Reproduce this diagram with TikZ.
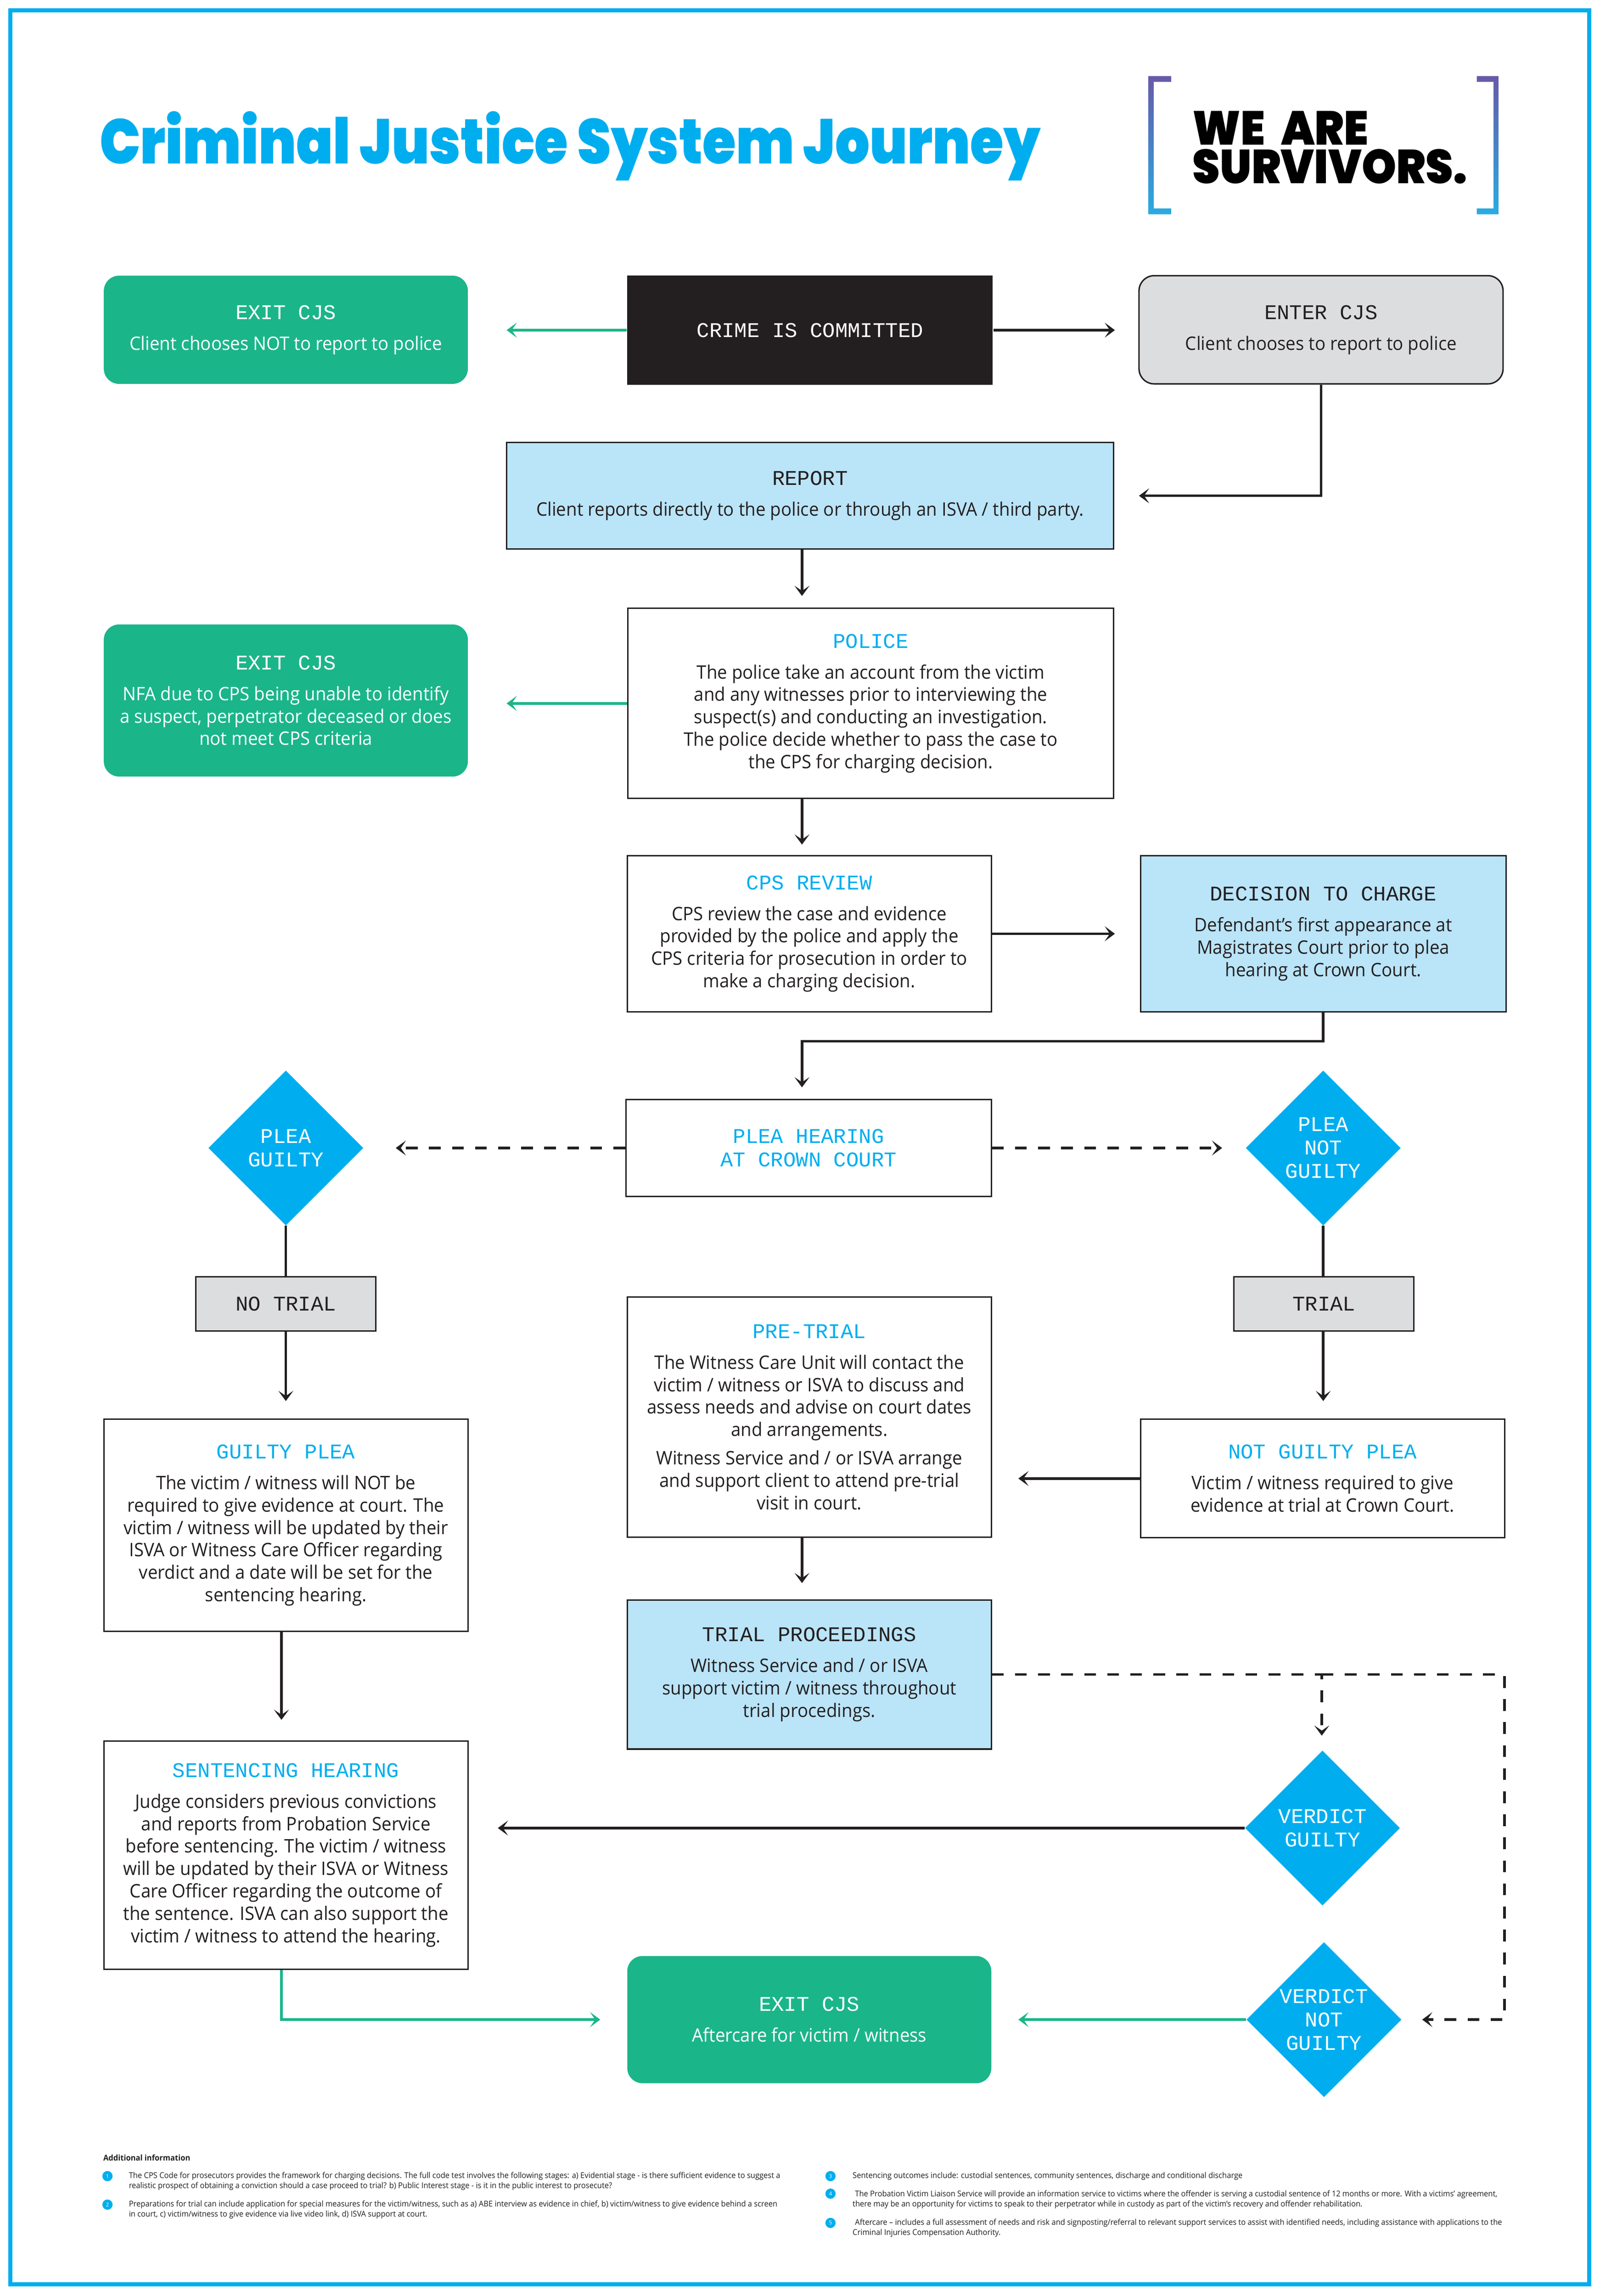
\documentclass[tikz,border=0pt]{standalone}
\usepackage{fontspec}
\usetikzlibrary{arrows.meta,shapes.geometric}
\setmainfont[FakeStretch=0.95]{Open Sans}
\newfontfamily\headfont{Liberation Mono}
\newfontfamily\titlefont[FakeStretch=0.857]{Poppins Black}
\newfontfamily\logofont[FakeStretch=0.92]{Poppins Black}
\newfontfamily\notefont[FakeStretch=0.95]{Open Sans}
\definecolor{cjsblue}{HTML}{00AEEF}
\definecolor{cjsgreen}{HTML}{1BB58A}
\definecolor{cjspale}{HTML}{BAE4F8}
\definecolor{cjsgrey}{HTML}{DCDDDE}
\definecolor{cjsdark}{HTML}{231F20}
\definecolor{logopurple}{HTML}{675AA8}
\definecolor{logoblue}{HTML}{29ABE2}
\newcommand{\un}{0.4314mm}
\newcommand{\hd}[1]{{\headfont\fontsize{17.6}{19}\selectfont #1}}
\newcommand{\hb}[1]{{\headfont\fontsize{17.6}{19}\selectfont\color{cjsblue} #1}}
\tikzset{
    panel/.style={rectangle, align=center, inner sep=0pt, text=cjsdark, line width=1.2pt,
        font=\fontsize{15.6}{18.8}\selectfont},
    whitebox/.style={panel, draw=cjsdark, fill=white},
    palebox/.style={panel, draw=cjsdark, fill=cjspale},
    greybox/.style={panel, draw=cjsdark, fill=cjsgrey},
    blackbox/.style={panel, fill=cjsdark, text=white},
    exitbox/.style={panel, fill=cjsgreen, text=white, rounded corners=4.5mm},
    enterbox/.style={greybox, rounded corners=4.5mm},
    choice/.style={diamond, aspect=1, fill=cjsblue, text=white, align=center, inner sep=0pt,
        minimum width=106*\un, minimum height=106*\un, font=\fontsize{15}{19.6}\selectfont},
    flow/.style={->, draw=cjsdark, line width=2.2pt},
    gflow/.style={->, draw=cjsgreen, line width=2.2pt},
    dflow/.style={flow, dash pattern=on 3.45mm off 3.35mm},
    gap/.style={shorten >=#1*\un},
    notenum/.style={circle, fill=cjsblue, text=white, inner sep=0pt, minimum size=7*\un,
        font=\notefont\fontsize{4.5}{5}\selectfont},
    note/.style={anchor=west, inner sep=0pt, text=cjsdark, align=left,
        font=\notefont\fontsize{6.7}{8.5}\selectfont},
    >={Stealth[length=3mm, width=4.4mm, inset=1.5mm]}
}
\begin{document}
\begin{tikzpicture}[x=0.4314mm, y=-0.4314mm]
    \useasboundingbox (0,0) rectangle (1094,1570);
    \fill[white] (0,0) rectangle (1094,1570);
    \draw[cjsblue, line width=3.6pt] (7,7) rectangle (1087,1562);

    \node[anchor=base west, inner sep=0pt, text=cjsblue, font=\titlefont\fontsize{53}{56}\selectfont] (title) at (68,112) {Criminal Justice System Journey};

    \shade[top color=logopurple, bottom color=logoblue] (785.5,52) -- (801,52) -- (801,56) -- (789,56) -- (789,142.5) -- (801,142.5) -- (801,146.5) -- (785.5,146.5) -- cycle;
    \shade[top color=logopurple, bottom color=logoblue] (1025,52) -- (1010,52) -- (1010,56) -- (1021.5,56) -- (1021.5,142.5) -- (1010,142.5) -- (1010,146.5) -- (1025,146.5) -- cycle;
    \node[anchor=west, inner sep=0pt, align=left, font=\logofont\fontsize{40}{32.3}\selectfont] (logo) at (815.5,100.8) {WE\hspace{7pt} ARE\\ SURVIVORS.};

    \node[exitbox, minimum width=249*\un, minimum height=74*\un] (exita) at (195.5,225.5) {\hd{EXIT CJS}\\[7pt] Client chooses NOT to report to police};
    \node[blackbox, minimum width=250*\un, minimum height=75*\un] (crime) at (554,225.75) {\hd{CRIME IS COMMITTED}};
    \node[enterbox, minimum width=249*\un, minimum height=74*\un] (enter) at (903.5,225.5) {\hd{ENTER CJS}\\[7pt] Client chooses to report to police};
    \node[palebox, minimum width=415*\un, minimum height=73*\un] (report) at (554,339) {\hd{REPORT}\\[7pt] Client reports directly to the police or through an ISVA / third party.};
    \node[whitebox, minimum width=332*\un, minimum height=130*\un] (police) at (595.5,481) {\hb{POLICE}\\[7pt] The police take an account from the victim\\ and any witnesses prior to interviewing the\\ suspect(s) and conducting an investigation.\\ The police decide whether to pass the case to\\ the CPS for charging decision.};
    \node[exitbox, minimum width=249*\un, minimum height=104*\un] (exitb) at (195.5,479) {\hd{EXIT CJS}\\[7pt] NFA due to CPS being unable to identify\\ a suspect, perpetrator deceased or does\\ not meet CPS criteria};
    \node[whitebox, minimum width=249*\un, minimum height=107*\un] (cps) at (553.5,638.5) {\hb{CPS REVIEW}\\[7pt] CPS review the case and evidence\\ provided by the police and apply the\\ CPS criteria for prosecution in order to\\ make a charging decision.};
    \node[palebox, minimum width=250*\un, minimum height=107*\un] (decision) at (905,638.5) {\hd{DECISION TO CHARGE}\\[7pt] Defendant’s first appearance at\\ Magistrates Court prior to plea\\ hearing at Crown Court.};
    \node[whitebox, minimum width=250*\un, minimum height=66*\un] (plea) at (553,785) {\hb{PLEA HEARING}\\[0.8pt] \hb{AT CROWN COURT}};
    \node[choice] (pguilty) at (195.5,785) {\hd{\color{white}PLEA}\\ \hd{\color{white}GUILTY}};
    \node[choice] (pnot) at (905,785) {\hd{\color{white}PLEA}\\ \hd{\color{white}NOT}\\ \hd{\color{white}GUILTY}};
    \node[greybox, minimum width=123*\un, minimum height=37*\un] (notrial) at (195.5,891.5) {\hd{NO TRIAL}};
    \node[greybox, minimum width=123*\un, minimum height=37*\un] (trial) at (905.5,891.5) {\hd{TRIAL}};
    \node[whitebox, minimum width=249*\un, minimum height=164*\un] (pretrial) at (553.5,969) {\hb{PRE-TRIAL}\\[7pt] The Witness Care Unit will contact the\\ victim / witness or ISVA to discuss and\\ assess needs and advise on court dates\\ and arrangements.\\[5pt] Witness Service and / or ISVA arrange\\ and support client to attend pre-trial\\ visit in court.};
    \node[whitebox, minimum width=249*\un, minimum height=145*\un] (gplea) at (195.5,1043) {\hb{GUILTY PLEA}\\[7pt] The victim / witness will NOT be\\ required to give evidence at court. The\\ victim / witness will be updated by their\\ ISVA or Witness Care Officer regarding\\ verdict and a date will be set for the\\ sentencing hearing.};
    \node[whitebox, minimum width=249*\un, minimum height=81*\un] (ngplea) at (904.5,1011) {\hb{NOT GUILTY PLEA}\\[7pt] Victim / witness required to give\\ evidence at trial at Crown Court.};
    \node[palebox, minimum width=249*\un, minimum height=102*\un] (tproc) at (553.5,1145) {\hd{TRIAL PROCEEDINGS}\\[7pt] Witness Service and / or ISVA\\ support victim / witness throughout\\ trial procedings.};
    \node[whitebox, minimum width=249*\un, minimum height=156*\un] (sent) at (195.5,1268.5) {\hb{SENTENCING HEARING}\\[7pt] Judge considers previous convictions\\ and reports from Probation Service\\ before sentencing. The victim / witness\\ will be updated by their ISVA or Witness\\ Care Officer regarding the outcome of\\ the sentence. ISVA can also support the\\ victim / witness to attend the hearing.};
    \node[choice] (vguilty) at (904.5,1250) {\hd{\color{white}VERDICT}\\ \hd{\color{white}GUILTY}};
    \node[choice] (vnot) at (905.5,1381) {\hd{\color{white}VERDICT}\\ \hd{\color{white}NOT}\\ \hd{\color{white}GUILTY}};
    \node[exitbox, minimum width=249*\un, minimum height=87*\un] (exitc) at (553.5,1381) {\hd{EXIT CJS}\\[7pt] Aftercare for victim / witness};

    \coordinate (mid) at (548.5,0);
    \coordinate (lft) at (192.5,0);
    \coordinate (turn) at (548.5,712);
    \coordinate (split) at (904,1145);
    \coordinate (far) at (1029,1145);

    \draw[gflow, gap=26] (crime.west) -- (crime.west -| exita.east);
    \draw[flow, gap=16] (crime.east) -- (crime.east -| enter.west);
    \draw[flow, gap=17] (enter.south) |- (report.east);
    \draw[flow, gap=8] (report.south -| mid) -- (police.north -| mid);
    \draw[gflow, gap=26] (police.west) -- (police.west -| exitb.east);
    \draw[flow, gap=7] (police.south -| mid) -- (cps.north -| mid);
    \draw[flow, gap=17] (cps.east) -- (decision.west);
    \draw[flow, gap=8] (decision.south) |- (turn) -- (turn |- plea.north);
    \draw[dflow, gap=22] (plea.west) -- (pguilty.east);
    \draw[dflow, gap=16] (plea.east) -- (pnot.west);
    \draw[draw=cjsdark, line width=2.2pt] (pguilty.south) -- (notrial.north);
    \draw[draw=cjsdark, line width=2.2pt] (pnot.south) -- (pnot.south |- trial.north);
    \draw[flow, gap=12] (notrial.south) -- (gplea.north);
    \draw[flow, gap=12] (pnot.south |- trial.south) -- (pnot.south |- ngplea.north);
    \draw[flow, gap=18] (ngplea.west) -- (ngplea.west -| pretrial.east);
    \draw[flow, gap=11] (pretrial.south -| mid) -- (tproc.north -| mid);
    \draw[flow, gap=14] (gplea.south -| lft) -- (sent.north -| lft);
    \draw[dflow, gap=10] (tproc.east) -- (split) -- (split |- vguilty.north);
    \draw[dflow, gap=14] (split) -- (far) |- (vnot.east);
    \draw[flow, gap=20] (vguilty.west) -- (vguilty.west -| sent.east);
    \draw[gflow, gap=18] (vnot.west) -- (exitc.east);
    \draw[gflow, gap=18] (sent.south -| lft) |- (exitc.west);

    \node[anchor=west, inner sep=0pt, text=cjsdark, font=\notefont\bfseries\fontsize{6.7}{8}\selectfont] (addinfo) at (70.5,1475.5) {Additional information};
    \node[notenum] (numa) at (73.5,1488) {1};
    \node[note] (notea) at (88,1491.5) {The CPS Code for prosecutors provides the framework for charging decisions. The full code test involves the following stages: a) Evidential stage - is there sufficient evidence to suggest a\\ realistic prospect of obtaining a conviction should a case proceed to trial? b) Public Interest stage -  is it in the public interest to prosecute?};
    \node[notenum] (numb) at (73.5,1507.5) {2};
    \node[note] (noteb) at (88,1511) {Preparations for trial can include application for special measures for the victim/witness, such as  a) ABE interview as evidence in chief, b) victim/witness to give evidence behind a screen\\ in court, c) victim/witness to give evidence via live video link, d) ISVA support at court.};
    \node[notenum] (numc) at (568,1488) {3};
    \node[note] (notec) at (583,1488) {Sentencing outcomes include: custodial sentences, community sentences, discharge and conditional discharge};
    \node[notenum] (numd) at (568,1500) {4};
    \node[note] (noted) at (583,1504) {\hspace{2pt}The Probation Victim Liaison Service will provide an information service to victims where the offender is serving a custodial sentence of 12 months or more. With a victims’ agreement,\\ there may be an opportunity for victims to speak to their perpetrator while in custody as part of the victim’s recovery and offender rehabilitation.};
    \node[notenum] (nume) at (568,1520) {5};
    \node[note] (notee) at (583,1523.5) {\hspace{2pt}Aftercare – includes a full assessment of needs and risk and signposting/referral to relevant support services to assist with identified needs, including assistance with applications to the\\ Criminal Injuries Compensation Authority.};
\end{tikzpicture}
\end{document}
